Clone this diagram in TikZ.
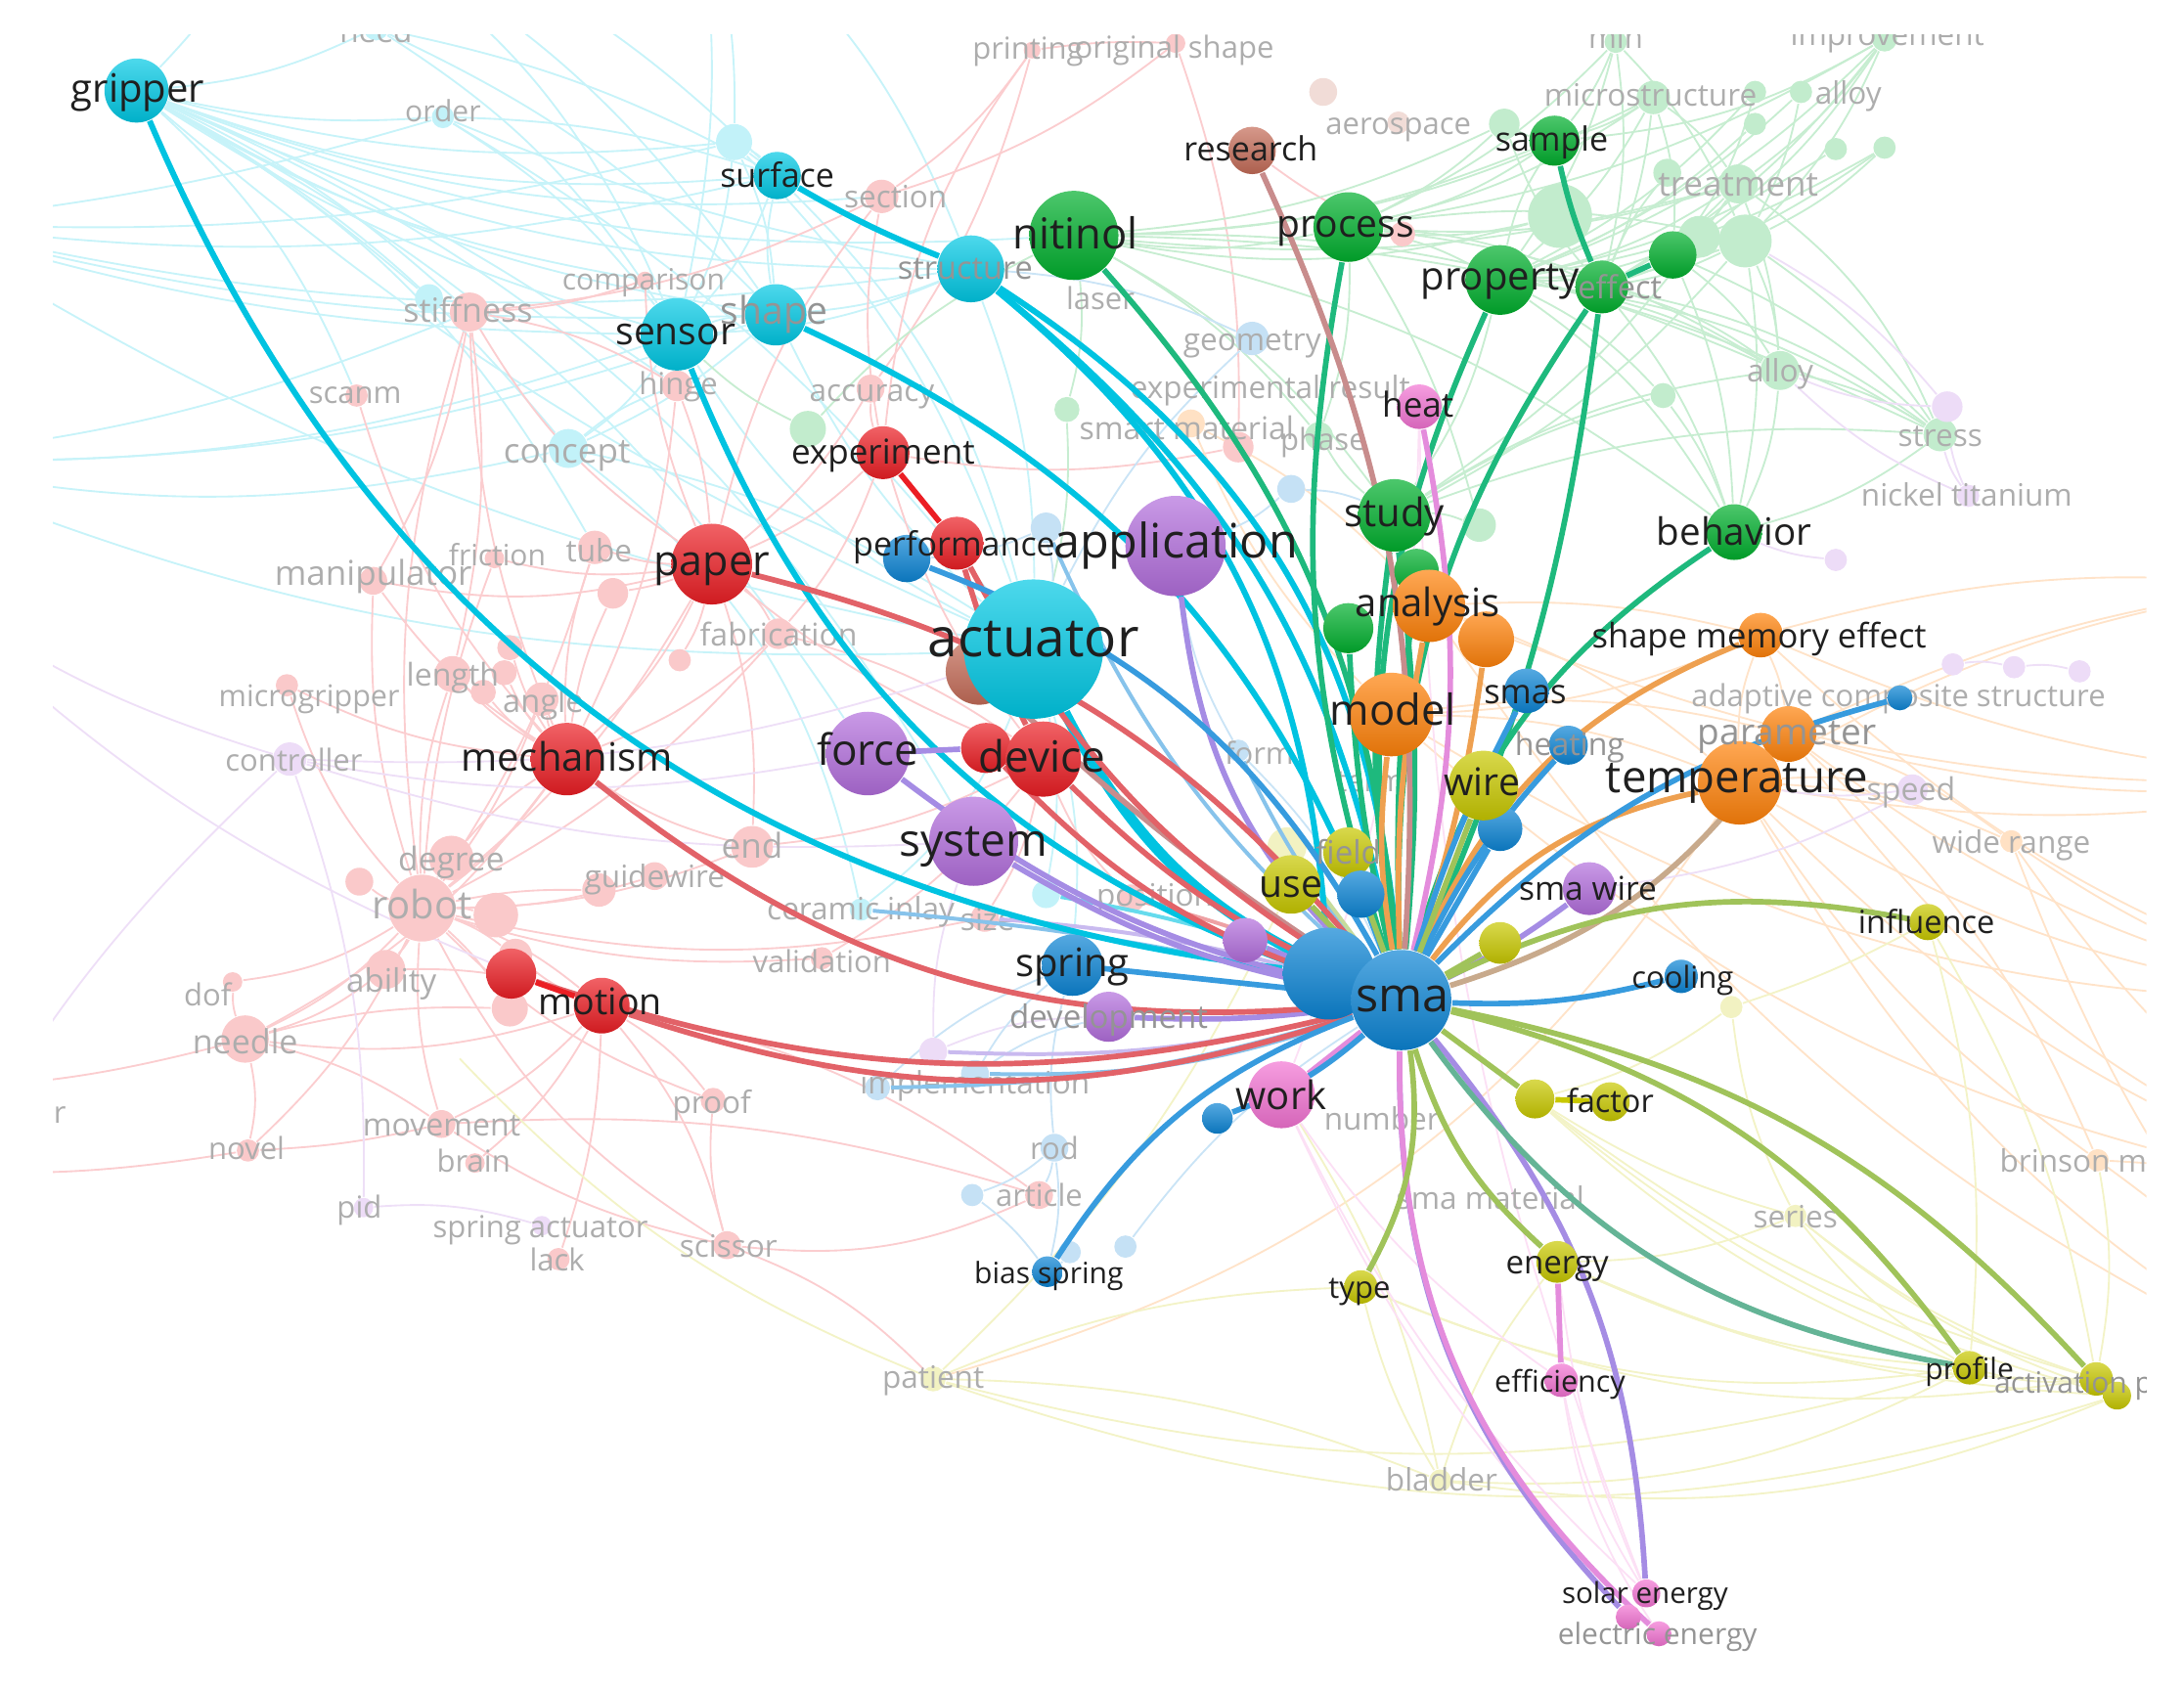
\documentclass[tikz,border=0pt]{standalone}
\usepackage{fontspec}
\setmainfont{Open Sans}
\pgfdeclarelayer{lzero}
\pgfdeclarelayer{lone}
\pgfdeclarelayer{ltwo}
\pgfdeclarelayer{ltop}
\pgfsetlayers{lzero,lone,ltwo,main,ltop}
\definecolor{cyanC}{RGB}{0,200,228}
\definecolor{redC}{RGB}{235,30,36}
\definecolor{greenC}{RGB}{0,175,45}
\definecolor{purpleC}{RGB}{178,110,220}
\definecolor{blueC}{RGB}{12,132,212}
\definecolor{orangeC}{RGB}{255,130,10}
\definecolor{oliveC}{RGB}{200,200,0}
\definecolor{pinkC}{RGB}{242,115,210}
\definecolor{brownC}{RGB}{196,108,88}
\definecolor{eCy}{RGB}{0,195,225}
\definecolor{eRed}{RGB}{226,98,104}
\definecolor{eGr}{RGB}{30,185,125}
\definecolor{ePu}{RGB}{165,140,228}
\definecolor{eBl}{RGB}{55,155,222}
\definecolor{eOr}{RGB}{238,160,80}
\definecolor{eTan}{RGB}{200,170,140}
\definecolor{eOl}{RGB}{160,195,90}
\definecolor{ePk}{RGB}{228,140,220}
\definecolor{eBr}{RGB}{200,140,140}
\definecolor{eTeal}{RGB}{100,180,150}
\newcommand\lbsize[1]{\fontsize{#1}{#1}\selectfont}
\tikzset{
  bnode/.style 2 args={circle, inner sep=0pt, minimum size={#2*0.2mm}, top color=#1!70!white, bottom color=#1!88!black, draw=none},
  fnode/.style 2 args={circle, inner sep=0pt, minimum size={#2*0.2mm}, fill=#1!24, draw=none},
  fedge/.style={draw=#1!22, line width=0.13mm},
  bedge/.style 2 args={draw=#1, line width=#2},
  blab/.style={font=\lbsize{#1}, text=black!88, inner sep=0pt, text height=0.72em, text depth=0.24em},
  flab/.style={font=\lbsize{#1}, text=black!32, inner sep=0pt, text height=0.72em, text depth=0.24em},
  olab/.style={font=\lbsize{#1}, text=black!42, inner sep=0pt, text height=0.72em, text depth=0.24em},
}
\begin{document}
\begin{tikzpicture}[x=0.1mm, y=-0.1mm]
\useasboundingbox (0,0) rectangle (1568,1213);
% ---------- bold nodes ----------
\foreach \n/\x/\y/\r/\c in {
 gripper/98/65/23/cyanC, surface/558/126/17/cyanC, structure/697/193/24/cyanC,
 nitinol/771/169/32/greenC, research/899/108/17/brownC, process/968/163/25/greenC,
 sample/1116/101/18/greenC, property/1077/201/25/greenC, effect/1150/206/19/greenC,
 gtop/1201/183/17/greenC, sensor/486/240/26/cyanC, shape/557/226/22/cyanC,
 heat/1019/292/16/pinkC, experiment/634/325/19/redC, study/1001/370/26/greenC,
 behavior/1245/382/20/greenC, perfb/651/401/17/blueC, perfr/687/390/19/redC,
 application/844/392/36/purpleC, paper/511/405/29/redC, brownA/703/482/24/brownC,
 actuator/742/466/50/cyanC, anGtwo/1017/410/16/greenC, anGone/968/451/18/greenC,
 analysis/1026/435/26/orangeC, anOtwo/1067/459/20/orangeC, sme/1264/456/16/orangeC,
 smas/1096/496/16/blueC, model/999/513/30/orangeC, mechanism/407/545/26/redC,
 force/623/541/30/purpleC, devRtwo/708/537/18/redC, device/749/545/27/redC,
 heating/1126/535/14/blueC, parameter/1284/527/20/orangeC, temperature/1249/562/30/orangeC,
 wireB/1077/595/16/blueC, wire/1065/564/25/oliveC, system/699/604/32/purpleC,
 field/968/612/18/oliveC, use/927/635/21/oliveC, useB/977/642/17/blueC,
 smawire/1141/638/19/purpleC, influence/1384/662/13/oliveC, purpS/894/675/16/purpleC,
 yelS/1077/677/15/oliveC, spring/770/693/22/blueC, cooling/1207/701/12/blueC,
 smaL/954/699/33/blueC, sma/1006/718/36/blueC, motiontwo/367/699/18/redC,
 motion/432/722/20/redC, development/796/730/18/purpleC, work/920/786/24/pinkC,
 workB/874/803/11/blueC, factor/1102/789/14/oliveC, factortwo/1156/791/14/oliveC,
 biasspring/752/913/11/blueC, type/977/924/12/oliveC, energy/1118/906/15/oliveC,
 efficiency/1121/991/12/pinkC, profile/1414/982/12/oliveC, actone/1505/990/12/oliveC,
 acttwo/1520/1002/10/oliveC, solar/1182/1144/10/pinkC, solartwo/1169/1161/9/pinkC,
 electric/1191/1173/9/pinkC, bluend/1364/501/9/blueC}
  \node[bnode={\c}{\r}] (\n) at (\x,\y) {};
% ---------- faint nodes ----------
\begin{pgfonlayer}{lone}
\begin{scope}
\clip (38,25) rectangle (1541,1213);
\foreach \n/\x/\y/\r/\c in {
 need/270/20/9/cyanC, order/318/84/8/cyanC, cyA/527/102/13/cyanC, cyB/308/214/10/cyanC,
 concept/408/322/14/cyanC, ceramic/618/653/8/cyanC, cyC/751/642/10/cyanC,
 printing/741/36/6/redC, origshape/844/31/7/redC, section/633/141/12/redC,
 comparison/463/201/6/redC, stiffness/337/224/14/redC, scanm/256/284/8/redC,
 hinge/486/277/11/redC, accuracy/625/279/10/redC, smR/889/321/11/redC,
 rProc/1007/168/9/redC, tube/427/393/12/redC, friction/355/401/7/redC,
 manipulator/268/417/10/redC, rA/440/426/11/redC, fabrication/559/455/11/redC,
 rB/488/474/8/redC, rC/366/465/9/redC, length/325/484/13/redC, rD/362/483/9/redC,
 rE/347/497/9/redC, angle/389/502/12/redC, microgripper/206/492/8/redC,
 degree/324/616/16/redC, rF/258/633/10/redC, robot/303/652/24/redC,
 rG/356/657/16/redC, rH/370/686/12/redC, ability/277/696/14/redC, rI/366/724/13/redC,
 dof/167/705/7/redC, needle/176/746/17/redC, endn/540/608/15/redC,
 guidewire/470/629/10/redC, rJ/430/639/12/redC, size/707/659/10/redC,
 validation/590/688/8/redC, posR/812/645/10/redC, proof/512/790/9/redC,
 movement/317/807/10/redC, novel/178/826/8/redC, brain/341/835/7/redC,
 scissor/522/894/10/redC, lack/401/904/8/redC, article/746/858/10/redC,
 aerospace/1004/88/8/brownC, bwA/950/66/10/brownC,
 gA/580/308/13/greenC, gB/766/294/9/greenC, phase/947/313/10/greenC,
 gC/1080/89/11/greenC, gD/1120/155/23/greenC, microG/1187/70/12/greenC,
 gE/1260/66/8/greenC, gF/1293/66/8/greenC, gG/1260/89/8/greenC,
 improvement/1353/28/9/greenC, minG/1160/30/8/greenC, lobfA/1318/107/8/greenC,
 lobfB/1353/106/8/greenC, treatment/1248/132/14/greenC, tA/1197/124/10/greenC,
 bigG/1253/173/19/greenC, bigGtwo/1220/170/15/greenC, alloy/1278/266/14/greenC,
 gH/1194/284/9/greenC, stress/1393/312/12/greenC, gI/1062/377/12/greenC,
 controller/208/545/12/purpleC, pid/261/867/7/purpleC, springact/389/880/7/purpleC,
 purpA/1398/292/11/purpleC, nickel/1413/356/8/purpleC, purpB/1318/402/8/purpleC,
 speed/1373/567/11/purpleC, purpC/1402/477/8/purpleC, purpD/1446/479/8/purpleC,
 purpE/1493/482/8/purpleC, impP/670/755/10/purpleC,
 geometry/899/243/12/blueC, bA/927/351/10/blueC, bB/751/379/11/blueC,
 form/889/539/8/blueC, rod/757/824/10/blueC, bC/698/858/8/blueC, bD/768/899/8/blueC,
 implB/700/771/10/blueC, implC/630/781/9/blueC, bE/808/895/8/blueC,
 smO/855/304/10/orangeC, widerange/1444/604/8/orangeC, brinson/1506/833/8/orangeC,
 patient/670/990/9/oliveC, bladder/1034/1063/8/oliveC, series/1289/873/8/oliveC,
 yA/1243/723/8/oliveC, yB/924/608/14/oliveC}
  \node[fnode={\c}{\r}] (\n) at (\x,\y) {};
\foreach \t/\x/\y/\s [count=\i] in {
 need/270/22/6.3, order/318/79/6.0, printing/738/34/6.2, original shape/843/33/6.2,
 aerospace/1004/88/6.2, microstructure/1185/68/6.3, min/1160/26/6.2,
 improvement/1355/24/6.3, alloy/1327/66/6.3, treatment/1248/132/7.0,
 comparison/462/200/6.0, stiffness/336/223/6.8, section/643/141/6.3, laser/790/214/6.2,
 geometry/899/243/6.3, hinge/487/275/6.2, scanm/255/281/6.2, accuracy/626/280/6.3,
 experimental result/912/278/6.3, alloy/1278/266/6.3, smart material/852/307/6.4,
 phase/950/315/6.2, stress/1393/312/6.3, concept/407/324/7.0,
 nickel titanium/1412/355/6.3, manipulator/268/412/7.0, friction/357/398/6.0,
 tube/430/395/6.3, fabrication/559/455/6.4, length/325/484/6.4, angle/390/503/6.5,
 microgripper/222/499/6.1, adaptive composite structure/1363/499/6.2,
 controller/211/545/6.2, form/904/540/6.2, term/984/560/6.2, speed/1372/566/6.4,
 wide range/1444/604/6.3, degree/324/617/6.7, end/540/608/7.0, guidewire/470/629/6.3,
 robot/303/651/8.0, ceramic inlay/618/652/6.3, size/709/660/6.3, position/829/642/6.3,
 ability/281/704/6.6, dof/149/714/6.2, validation/590/690/6.2, needle/176/748/6.8,
 implementation/700/777/6.3, r/43/798/6.2, proof/511/791/6.3, movement/317/807/6.4,
 number/992/803/6.3, novel/177/824/6.2, rod/757/824/6.2, brain/340/833/6.2,
 brinson model/1511/833/6.3, article/746/858/6.2, sma material/1070/860/6.3,
 pid/258/866/6.2, series/1289/873/6.3, spring actuator/388/880/6.2,
 scissor/523/894/6.3, lack/400/904/6.2, patient/670/988/6.3, bladder/1035/1062/6.3}
  \node[flab=\s] (fl\i) at (\x,\y) {\t};
\end{scope}
\end{pgfonlayer}
% ---------- faint edges ----------
\begin{pgfonlayer}{lzero}
\begin{scope}
\clip (38,25) rectangle (1541,1213);
\coordinate (cLone) at (-60,160); \coordinate (cLtwo) at (-80,330);
\coordinate (cTone) at (200,-80); \coordinate (cTtwo) at (500,-80);
\coordinate (rLone) at (-100,780); \coordinate (rLtwo) at (-60,840);
\coordinate (oRone) at (1700,560); \coordinate (oRtwo) at (1700,720);
\coordinate (oRthree) at (1700,860); \coordinate (oRfour) at (1680,1000);
\coordinate (oRfive) at (1640,420); \coordinate (yLone) at (330,760);
\coordinate (pLone) at (-80,400); \coordinate (pLtwo) at (-60,900);
\foreach \a/\b/\k in {
 gripper/need/-10, gripper/order/-8, gripper/cyA/-10, gripper/surface/-12, gripper/comparison/-10,
 gripper/sensor/-8, gripper/shape/-10, gripper/structure/-12, gripper/stiffness/8, gripper/concept/10,
 gripper/section/-12, gripper/actuator/-8, gripper/hinge/6, gripper/cyB/5, gripper/tube/15,
 gripper/scanm/12, gripper/nitinol/-12, gripper/force/14, gripper/system/18,
 cLone/surface/-10, cLone/sensor/-8, cLone/shape/-8, cLone/structure/-10, cLone/order/-5,
 cLone/actuator/-10, cLone/cyA/-8, cLtwo/sensor/-10, cLtwo/concept/-12, cLtwo/shape/-10,
 cLtwo/actuator/-12, cLtwo/stiffness/-8, cTone/surface/15, cTone/sensor/20, cTone/gripper/10,
 cTone/shape/15, cTtwo/structure/15, cTtwo/sensor/10, cTtwo/cyA/10,
 need/surface/8, need/sensor/12, need/shape/10, order/sensor/10, order/surface/8,
 order/structure/-6, order/actuator/10, cyA/surface/10, cyA/sensor/10, cyA/shape/10,
 cyA/structure/-8, cyA/actuator/12, surface/sensor/10, surface/shape/-10, surface/actuator/15,
 sensor/shape/8, sensor/structure/-10, sensor/actuator/-15, sensor/concept/10, sensor/hinge/5,
 shape/structure/-8, shape/actuator/-10, shape/concept/8, structure/actuator/10,
 actuator/ceramic/15, actuator/cyC/10, actuator/concept/-10, actuator/spring/10, concept/hinge/10,
 concept/ceramic/20}
  \draw[fedge=cyanC] (\a) to[bend left=\k] (\b);
\foreach \a/\b/\k in {
 robot/needle/10, robot/dof/12, robot/ability/8, robot/degree/5, robot/mechanism/-8, robot/motion/10,
 robot/guidewire/-8, robot/endn/-10, robot/length/10, robot/angle/-8, robot/microgripper/12,
 robot/manipulator/10, robot/novel/10, robot/movement/-10, robot/proof/-12, robot/scissor/-15,
 robot/stiffness/12, robot/friction/8, robot/tube/-8, robot/paper/-10, robot/fabrication/-10,
 robot/rF/8, robot/rG/6, robot/rH/8, robot/rI/8, robot/validation/-10, robot/size/-12, robot/rJ/6,
 mechanism/length/8, mechanism/angle/6, mechanism/manipulator/10, mechanism/needle/12,
 mechanism/degree/-8, mechanism/paper/-10, mechanism/fabrication/-10, mechanism/endn/-10,
 mechanism/scanm/12, mechanism/stiffness/10, mechanism/microgripper/10, mechanism/hinge/-10,
 mechanism/rA/8, mechanism/rC/8, mechanism/rD/8, mechanism/rE/8, mechanism/tube/10,
 paper/tube/8, paper/fabrication/10, paper/stiffness/12, paper/hinge/-8, paper/comparison/10,
 paper/experiment/-10, paper/accuracy/-10, paper/endn/10, paper/manipulator/12, paper/friction/10,
 paper/device/-8, paper/section/12, paper/rA/5, paper/rB/8,
 needle/dof/10, needle/motion/-12, needle/ability/-10, needle/movement/10, needle/novel/12, needle/rI/8,
 motion/proof/10, motion/movement/10, motion/scissor/12, motion/lack/8, motion/brain/10,
 motion/ability/-10, motion/rH/8, experiment/accuracy/10, experiment/section/10,
 experiment/printing/15, experiment/smR/-10, experiment/device/-10, experiment/fabrication/10,
 device/fabrication/-10, device/endn/10, device/size/10, device/posR/-10, device/validation/10,
 stiffness/section/-10, stiffness/comparison/-8, stiffness/hinge/10, stiffness/manipulator/10,
 stiffness/length/10, scissor/article/-15, scissor/proof/10, scissor/movement/10,
 article/movement/-10, article/motion/-12, printing/origshape/5, printing/section/10,
 printing/accuracy/10, origshape/section/10, origshape/smR/10, rProc/process/5, rProc/research/8,
 rLone/needle/-8, rLtwo/novel/-6, novel/movement/-5, scissor/patient/12}
  \draw[fedge=redC] (\a) to[bend left=\k] (\b);
\foreach \a/\b/\k in {
 process/sample/-10, process/property/8, process/effect/10, process/treatment/-10, process/microG/-10,
 process/gC/-8, process/gD/-10, process/nitinol/10, process/alloy/12, process/phase/10,
 process/gI/8, process/bigG/10, process/minG/-10, process/improvement/-10,
 property/sample/10, property/effect/8, property/treatment/-10, property/bigG/-10,
 property/bigGtwo/-10, property/alloy/10, property/stress/12, property/gH/10, property/behavior/12,
 property/study/10, property/microG/-10, property/improvement/-12, property/minG/-10,
 property/gE/-10, property/gF/-10, property/gG/-10, property/lobfA/-10, property/lobfB/-10,
 effect/treatment/-8, effect/bigG/-8, effect/alloy/10, effect/stress/12, effect/behavior/10,
 effect/minG/-10, effect/improvement/-10, effect/microG/-8, effect/gC/10, effect/tA/8,
 effect/lobfB/-8, gtop/treatment/-8, gtop/bigG/-8, gtop/alloy/10, gtop/stress/10,
 gtop/behavior/10, gtop/improvement/-10, gtop/gE/-10, gtop/microG/-10,
 nitinol/gA/-10, nitinol/gB/10, nitinol/phase/10, nitinol/study/12, nitinol/sample/-10,
 nitinol/treatment/-10, nitinol/microG/-12, nitinol/gC/-10, nitinol/gD/-12, nitinol/alloy/12,
 nitinol/stress/12, nitinol/behavior/12, behavior/stress/-10, behavior/alloy/-10,
 behavior/bigG/-10, behavior/gH/-8, study/phase/10, study/gI/10, study/alloy/12,
 study/treatment/-10, study/stress/12, study/bigG/-10, study/gH/8, bigG/stress/10,
 bigG/alloy/10, bigG/improvement/-10, bigG/lobfB/-8, bigG/minG/-10, bigG/gF/-8,
 alloy/stress/10, alloy/treatment/-8, treatment/microG/-10, treatment/improvement/-8,
 treatment/stress/15, sample/microG/-8, sample/gC/8, sample/minG/-8, sample/improvement/-12,
 gA/sensor/8, gB/actuator/8}
  \draw[fedge=greenC] (\a) to[bend left=\k] (\b);
\foreach \a/\b/\k in {
 temperature/widerange/10, temperature/speed/8, temperature/brinson/-10, temperature/sme/10,
 temperature/model/-10, temperature/analysis/-10, parameter/widerange/10, parameter/brinson/12,
 parameter/sme/-8, parameter/model/-10, model/sme/-10, model/smO/10, analysis/sme/8,
 temperature/oRone/-10, temperature/oRtwo/-12, temperature/oRthree/-12, temperature/oRfour/-15,
 temperature/oRfive/10, parameter/oRone/-10, parameter/oRtwo/-12, parameter/oRthree/-15,
 parameter/oRfive/8, sme/oRone/-10, sme/oRtwo/-12, sme/oRfive/10, widerange/oRtwo/-10,
 widerange/oRthree/-10, widerange/oRfour/-10, model/oRtwo/-15, model/oRthree/-15,
 analysis/oRone/-12, analysis/oRfour/-15, brinson/oRthree/5, brinson/oRfour/8,
 smO/analysis/10, patient/temperature/-20}
  \draw[fedge=orangeC] (\a) to[bend left=\k] (\b);
\foreach \a/\b/\k in {
 profile/actone/-10, profile/series/10, profile/energy/10, profile/factor/10, profile/type/15,
 profile/influence/-10, profile/patient/15, profile/bladder/15, actone/series/10, actone/energy/12,
 actone/factor/10, actone/influence/-10, actone/brinson/-10, actone/type/15, actone/acttwo/5,
 acttwo/series/10, acttwo/energy/10, acttwo/factor/12, acttwo/bladder/15, acttwo/patient/18,
 patient/bladder/10, patient/use/-10, patient/type/10, bladder/energy/10, bladder/type/8,
 bladder/work/-10, series/energy/10, series/factor/8, series/yA/10, yA/influence/-5,
 yA/factor/10, yLone/patient/-12, yB/use/5, yB/field/5}
  \draw[fedge=oliveC] (\a) to[bend left=\k] (\b);
\foreach \a/\b/\k in {
 solar/work/10, solar/efficiency/10, solar/energy/8, solar/heat/10, electric/work/10,
 electric/efficiency/12, efficiency/work/10, work/heat/-10}
  \draw[fedge=pinkC] (\a) to[bend left=\k] (\b);
\foreach \a/\b/\k in {
 controller/system/-10, controller/force/-10, controller/pid/10, controller/actuator/-10,
 nickel/stress/10, nickel/alloy/10, nickel/purpA/10, purpA/alloy/10, purpA/bigG/-10,
 purpA/stress/-8, speed/temperature/8, speed/smawire/10, pid/springact/10, purpC/purpD/10,
 purpD/purpE/10, impP/development/10, impP/system/10, pLone/controller/-10, pLone/motion/-12,
 pLtwo/controller/10, purpB/behavior/8}
  \draw[fedge=purpleC] (\a) to[bend left=\k] (\b);
\foreach \a/\b/\k in {
 rod/biasspring/10, rod/spring/10, rod/article/10, rod/bC/10, bD/biasspring/10,
 implB/spring/10, implB/development/10, implC/spring/10, geometry/structure/-10,
 geometry/actuator/-10, bA/study/10, bA/application/10, bB/actuator/10, bB/perfb/10,
 form/sma/10, form/application/10, bE/sma/10, bC/biasspring/8}
  \draw[fedge=blueC] (\a) to[bend left=\k] (\b);
\end{scope}
\end{pgfonlayer}
% ---------- bold edges ----------
\begin{pgfonlayer}{ltwo}
\foreach \a/\b/\c/\k in {
 sma/implB/eBl/10, sma/implC/eBl/8, sma/cyC/eCy/-6, sma/ceramic/eBl/-4, sma/size/ePu/-6,
 sma/posR/eRed/-5, sma/impP/ePu/8, sma/bB/eBl/12, sma/form/eBl/6, sma/yB/eOl/0}
  \draw[bedge={\c!60}{0.28mm}] (\a) to[bend left=\k] (\b);
\foreach \a/\b/\k in {gripper/smaL/-30, sensor/sma/-25, surface/structure/-4,
 structure/sma/20, structure/sma/26, structure/smaL/23, shape/sma/22}
  \draw[bedge={eCy}{0.42mm}] (\a) to[bend left=\k] (\b);
\draw[bedge={eCy}{0.75mm}] (actuator) to[bend left=-20] (sma);
\foreach \a/\b/\k in {nitinol/sma/18, process/sma/-14, property/sma/-16, effect/sma/-18,
 effect/sma/8, gtop/effect/0, sample/effect/-5, behavior/sma/-20, study/sma/-8, study/sma/6,
 anGone/sma/-5, anGtwo/sma/-4}
  \draw[bedge={eGr}{0.4mm}] (\a) to[bend left=\k] (\b);
\foreach \a/\b/\c/\k in {analysis/sma/eOr/-6, anOtwo/sma/eOr/5, model/sma/eOr/-8,
 temperature/sma/eOr/-20, parameter/sma/eTan/18, sme/sma/eOr/-22, heat/sma/ePk/12,
 work/sma/ePk/0, research/sma/eBr/14, brownA/sma/eBr/-5,
 application/sma/ePu/-20, system/sma/ePu/-10, force/sma/ePu/-12, force/devRtwo/ePu/0,
 development/sma/ePu/-5, purpS/sma/ePu/0, smawire/sma/ePu/5, sma/solartwo/ePu/-22,
 sma/electric/ePk/-24, sma/solar/ePu/18,
 experiment/perfr/redC/0, paper/sma/eRed/18, perfr/sma/eRed/-15, perfr/device/eRed/-5,
 mechanism/sma/eRed/-22, motion/sma/eRed/-18, motiontwo/sma/eRed/-16, motiontwo/motion/redC/0,
 device/sma/eRed/-10, devRtwo/sma/eRed/-14,
 perfb/sma/eBl/20, spring/sma/eBl/0, biasspring/sma/eBl/18, cooling/sma/eBl/8, smas/sma/eBl/-5,
 heating/sma/eBl/-8, wireB/sma/eBl/0, useB/sma/eBl/0, workB/sma/eBl/-10, sma/bluend/eBl/15,
 smaL/sma/eBl/0,
 wire/sma/eOl/0, field/sma/eOl/0, use/sma/eOl/0, yelS/sma/eOl/0, factor/sma/eOl/0,
 factortwo/factor/oliveC/0, type/sma/eOl/-18, energy/sma/eOl/15, sma/influence/eOl/18,
 sma/profile/eTeal/-22, sma/profile/eOl/20, sma/actone/eOl/18, energy/efficiency/ePk/0}
  \draw[bedge={\c}{0.4mm}] (\a) to[bend left=\k] (\b);
\end{pgfonlayer}
% ---------- labels ----------
\begin{pgfonlayer}{ltop}
\foreach \t/\x/\y/\s [count=\i] in {
 gripper/99/65/8.0, surface/558/126/6.8, nitinol/772/170/8.7, research/898/107/6.8,
 process/966/162/7.8, sample/1114/100/6.8, property/1077/200/8.0, sensor/485/239/7.8,
 heat/1018/291/7.0, experiment/634/325/7.0, study/1001/370/8.0, behavior/1245/383/7.7,
 performance/685/391/6.8, application/844/392/9.7, paper/511/405/8.6, actuator/742/463/11,
 analysis/1025/434/8.0, shape memory effect/1263/457/6.9, smas/1095/497/6.9, model/1000/512/8.7,
 mechanism/407/545/8.0, force/623/541/8.8, device/748/546/8.8, temperature/1247/561/9.1,
 wire/1064/563/7.8, system/699/606/9.2, use/927/636/7.8, sma wire/1140/638/6.7,
 influence/1383/662/6.5, spring/770/693/8.0, cooling/1208/701/6.2, sma/1007/718/9.7,
 motion/431/720/7.5, work/920/788/8.0, factor/1156/790/6.5, bias spring/753/913/6.0,
 type/976/924/6.2, energy/1118/906/6.6, efficiency/1120/991/6.1, profile/1414/982/6.0,
 solar energy/1181/1143/5.9}
  \node[blab=\s] (bl\i) at (\x,\y) {\t};
\begin{scope}
\clip (38,25) rectangle (1541,1213);
\foreach \t/\x/\y/\s [count=\i] in {
 structure/693/192/6.5, shape/556/224/7.8, effect/1163/206/6.5, heating/1127/534/6.4,
 parameter/1283/526/7.4, field/968/612/6.6, development/796/730/6.6,
 electric energy/1190/1172/6.0, activation profile/1514/992/6.0}
  \node[olab=\s] (ol\i) at (\x,\y) {\t};
\end{scope}
\end{pgfonlayer}
\end{tikzpicture}
\end{document}
